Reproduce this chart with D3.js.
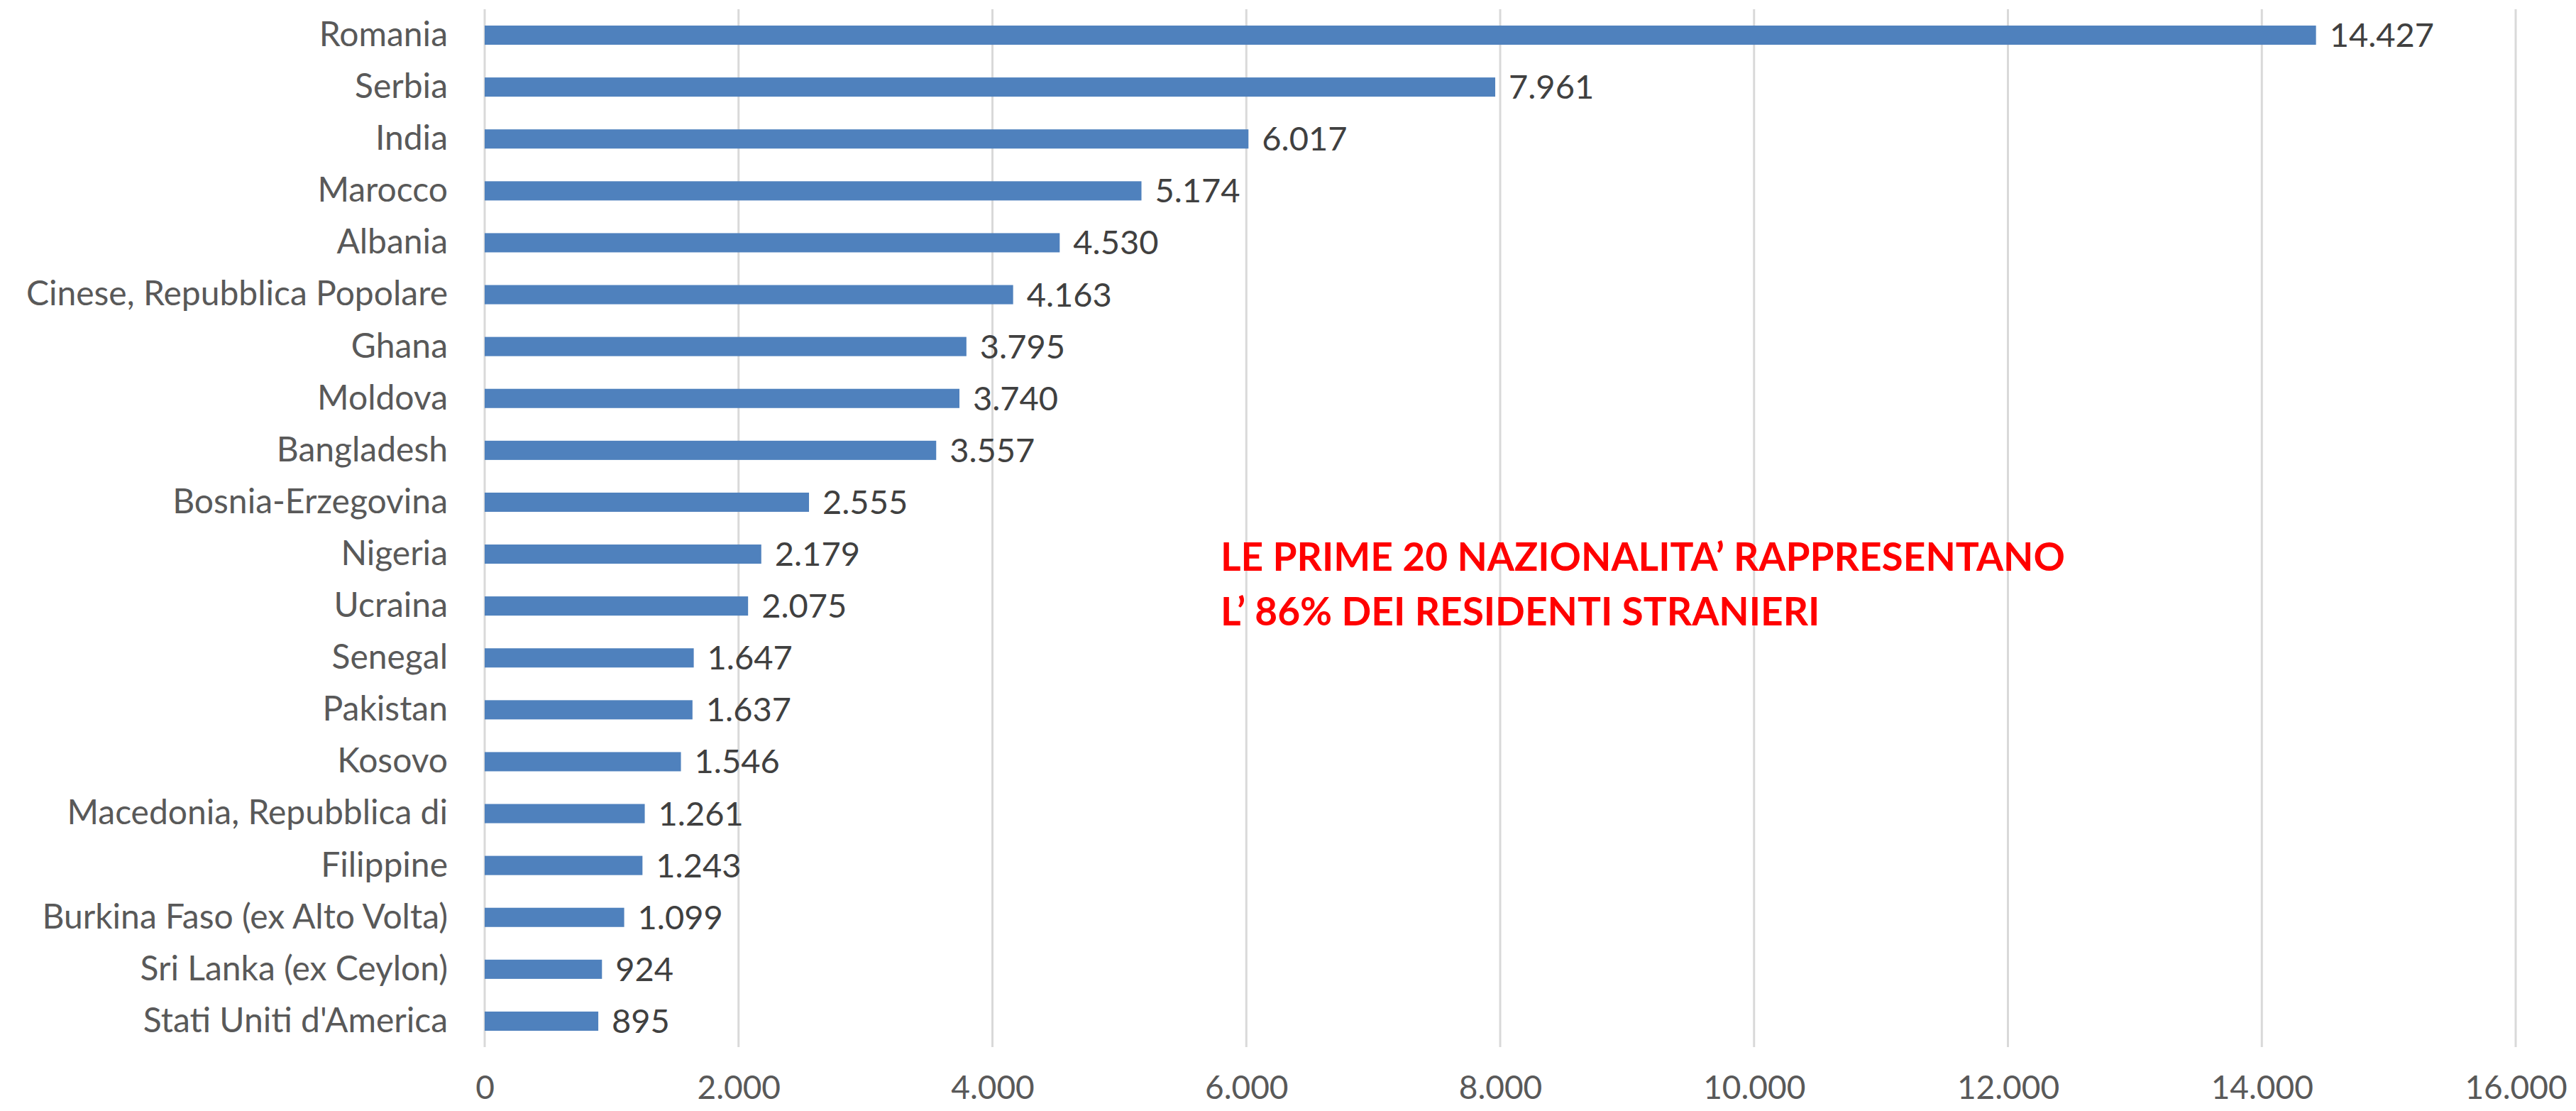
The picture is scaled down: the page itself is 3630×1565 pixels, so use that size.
<!DOCTYPE html>
<html>
<head>
<meta charset="utf-8">
<script src="https://cdn.jsdelivr.net/npm/d3@7"></script>
<style>
  body { margin: 0; background: #fff; }
  text { font-family: Lato, "Open Sans", sans-serif; }
</style>
</head>
<body>
<div id="chart"></div>
<script>
// data
var countries = ["Romania", "Serbia", "India", "Marocco", "Albania",
    "Cinese, Repubblica Popolare", "Ghana", "Moldova", "Bangladesh", "Bosnia-Erzegovina",
    "Nigeria", "Ucraina", "Senegal", "Pakistan", "Kosovo",
    "Macedonia, Repubblica di", "Filippine", "Burkina Faso (ex Alto Volta)", "Sri Lanka (ex Ceylon)", "Stati Uniti d'America"];
var residents = [14427, 7961, 6017, 5174, 4530, 4163, 3795, 3740, 3557, 2555,
    2179, 2075, 1647, 1637, 1546, 1261, 1243, 1099, 924, 895];
var xTicks = [0, 2000, 4000, 6000, 8000, 10000, 12000, 14000, 16000];
var noteLines = ["LE PRIME 20 NAZIONALITA\u2019 RAPPRESENTANO", "L\u2019 86% DEI RESIDENTI STRANIERI"];

var W = 3630, H = 1565;
var margin = { top: 13, right: 85, bottom: 90, left: 683 };
var width = W - margin.left - margin.right;
var height = H - margin.top - margin.bottom;

var it = d3.formatLocale({ decimal: ",", thousands: ".", grouping: [3], currency: ["", "\u20ac"] });
var fmt = it.format(",d");

var svg = d3.select("#chart")
    .append("svg")
    .attr("width", W)
    .attr("height", H)
    .append("g")
    .attr("transform", "translate(" + margin.left + "," + margin.top + ")");

var x = d3.scaleLinear().domain([0, 16000]).range([0, width]);
var y = d3.scaleBand().domain(countries).range([0, height]).paddingInner(0.63).paddingOuter(0.315);

// vertical gridlines
svg.append("g")
    .selectAll("line")
    .data(xTicks)
    .join("line")
    .attr("x1", d => x(d))
    .attr("x2", d => x(d))
    .attr("y1", 0)
    .attr("y2", height)
    .style("stroke", "#d9d9d9")
    .style("stroke-width", 3);

// x tick labels
var xAxis = svg.append("g")
    .attr("transform", "translate(0," + height + ")")
    .call(d3.axisBottom(x).tickValues(xTicks).tickFormat(fmt).tickSize(0).tickPadding(40));
xAxis.select(".domain").remove();
xAxis.selectAll("text")
    .style("font-size", "46px")
    .style("fill", "#595959");

// category labels
var yAxis = svg.append("g")
    .call(d3.axisLeft(y).tickSize(0).tickPadding(52));
yAxis.select(".domain").remove();
yAxis.selectAll("text")
    .style("font-size", "48px")
    .style("fill", "#595959");

// bars
svg.append("g")
    .selectAll("rect")
    .data(residents)
    .join("rect")
    .attr("x", 0)
    .attr("y", (d, i) => y(countries[i]))
    .attr("width", d => x(d))
    .attr("height", y.bandwidth())
    .style("fill", "#4f81bd");

// value labels
svg.append("g")
    .selectAll("text")
    .data(residents)
    .join("text")
    .attr("x", d => x(d) + 19)
    .attr("y", (d, i) => y(countries[i]) + y.bandwidth() / 2)
    .attr("dy", "0.35em")
    .style("font-size", "47px")
    .style("fill", "#404040")
    .text(d => fmt(d));

// note
svg.append("g")
    .selectAll("text")
    .data(noteLines)
    .join("text")
    .attr("x", 1720 - margin.left)
    .attr("y", (d, i) => 804 - margin.top + i * 77)
    .style("font-size", "55px")
    .style("font-weight", "bold")
    .style("fill", "#ff0000")
    .text(d => d);
</script>
</body>
</html>
